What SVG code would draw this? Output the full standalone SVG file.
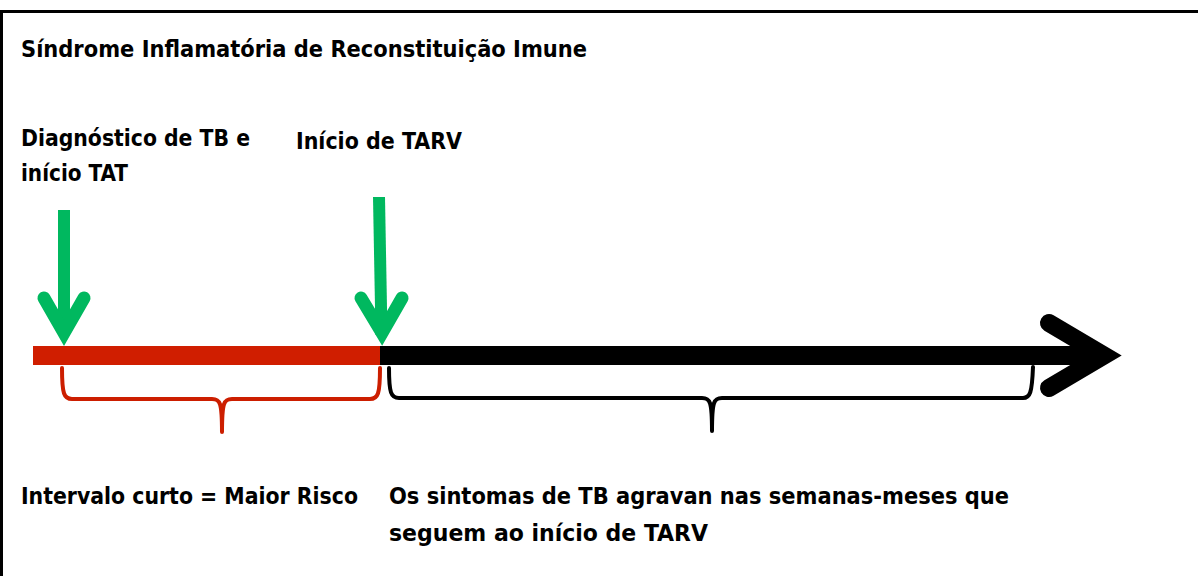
<svg xmlns="http://www.w3.org/2000/svg" width="1198" height="576" viewBox="0 0 1198 576">
<style>
.t{font-family:"DejaVu Sans Condensed","DejaVu Sans","Liberation Sans",sans-serif;font-stretch:condensed;font-weight:bold;font-size:23px;fill:#000}
.g{fill:none;stroke:#00b85f;stroke-linecap:round;stroke-linejoin:miter;stroke-miterlimit:10}
.brace{fill:none;stroke-width:4;stroke-linecap:round;stroke-linejoin:round}
</style>
<rect x="0" y="0" width="1198" height="576" fill="#fff"/>
<rect id="frame" x="1.5" y="11.5" width="1200" height="600" fill="none" stroke="#000" stroke-width="3"/>
<g id="title"><text class="t" x="21" y="57" textLength="566" lengthAdjust="spacingAndGlyphs">Síndrome Inflamatória de Reconstituição Imune</text></g>
<g id="label-diagnostico"><text class="t" x="21" y="146" textLength="229" lengthAdjust="spacingAndGlyphs">Diagnóstico de TB e</text><text class="t" x="21" y="181" textLength="107" lengthAdjust="spacingAndGlyphs">início TAT</text></g>
<g id="label-tarv"><text class="t" x="296" y="149" textLength="166" lengthAdjust="spacingAndGlyphs">Início de TARV</text></g>
<g id="label-intervalo"><text class="t" x="21" y="504" textLength="337" lengthAdjust="spacingAndGlyphs">Intervalo curto = Maior Risco</text></g>
<g id="label-sintomas"><text class="t" x="389" y="504" textLength="620" lengthAdjust="spacingAndGlyphs">Os sintomas de TB agravan nas semanas-meses que</text><text class="t" x="389" y="541" textLength="319" lengthAdjust="spacingAndGlyphs">seguem ao início de TARV</text></g>
<g id="connectors">
<rect id="red-bar" x="33" y="346" width="348" height="19" fill="#d01e00"/>
<rect id="black-bar" x="380" y="346" width="725" height="19" fill="#000"/>
<path id="black-head" d="M1049,323 L1104,355.5 L1049,388" fill="none" stroke="#000" stroke-width="18" stroke-linecap="round" stroke-linejoin="miter" stroke-miterlimit="10"/>
<path id="green-1-shaft" d="M64,210 L64,335" class="g" stroke-width="12" style="stroke-linecap:butt"/>
<path id="green-1-head" d="M44,298 L64,333 L84,298" class="g" stroke-width="13"/>
<path id="green-2-shaft" d="M379,197 L381.5,335" class="g" stroke-width="12" style="stroke-linecap:butt"/>
<path id="green-2-head" d="M361,298 L382,333 L402,298" class="g" stroke-width="13"/>
<path id="red-brace" class="brace" stroke="#cc1e00" d="M62,368 C62,394 64,399 72,399 L212,399 C220,399 222,402 222,432 C222,402 224,399 232,399 L370,399 C378,399 380,394 380,368"/>
<path id="black-brace" class="brace" stroke="#000" d="M389,368 C389,393 391,398 399,398 L702,398 C710,398 712,401 712,431 C712,401 714,398 722,398 L1023,398 C1030,398 1032,393 1033,367"/>
</g>
</svg>
